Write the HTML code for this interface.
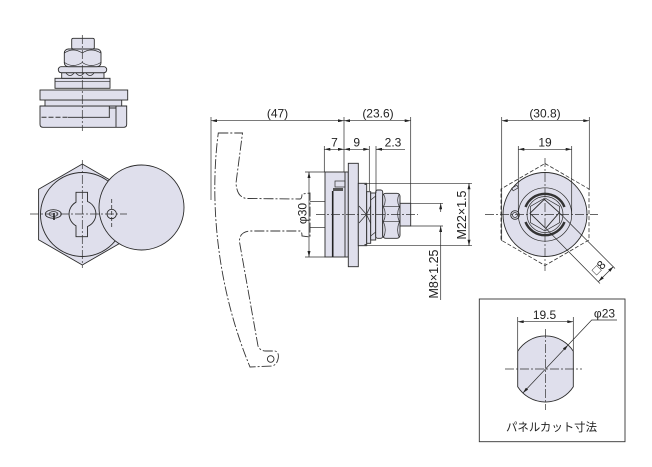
<!DOCTYPE html>
<html><head><meta charset="utf-8">
<style>
html,body{margin:0;padding:0;background:#fff;}
svg{display:block;}
text{font-family:"Liberation Sans","Noto Sans CJK JP",sans-serif;fill:#222;}
.l{stroke:#2b2b2b;stroke-width:0.9;fill:none;}
.t{stroke:#2b2b2b;stroke-width:0.7;fill:none;}
.f{fill:#dfdfec;stroke:#2b2b2b;stroke-width:0.9;}
.c{stroke:#333;stroke-width:0.7;fill:none;stroke-dasharray:9 2 2 2;}
.h{stroke:#333;stroke-width:0.8;fill:none;stroke-dasharray:4 2;}
.p{stroke:#333;stroke-width:0.9;fill:none;stroke-dasharray:10 2 2 2;}
.d{stroke:#2b2b2b;stroke-width:0.7;fill:none;marker-start:url(#a);marker-end:url(#a);}
.d1{stroke:#2b2b2b;stroke-width:0.7;fill:none;marker-end:url(#a);}
</style></head>
<body>
<svg width="652" height="467" viewBox="0 0 652 467" xmlns="http://www.w3.org/2000/svg">
<defs>
<marker id="a" viewBox="0 0 8 4" refX="8" refY="2" markerWidth="7" markerHeight="3" orient="auto-start-reverse" markerUnits="userSpaceOnUse"><path d="M0,0 L8,2 L0,4 z" fill="#222"/></marker>
</defs>

<!-- ============ TOP-LEFT VIEW ============ -->
<path class="f" d="M40,106 H126.7 V124.3 Q126.7,127.3 123.7,127.3 H43 Q40,127.3 40,124.3 Z"/>
<rect class="f" x="45" y="100" width="76.7" height="6"/>
<rect class="f" x="40" y="90" width="87.7" height="10"/>
<rect class="f" x="55" y="78.3" width="55" height="10"/>
<line class="t" x1="55" y1="81.7" x2="110" y2="81.7"/>
<rect class="f" x="61.7" y="72.7" width="42.3" height="5.6"/>
<path class="t" d="M66,73 Q70,78 74,73 M76,73 Q80,78 84,73 M86,73 Q90,78 94,73"/>
<rect class="f" x="58.3" y="66.7" width="48.4" height="6" rx="2.8"/>
<rect class="f" x="64.3" y="49" width="36.7" height="17.7" rx="4"/>
<path class="t" d="M64.5,53 Q73,47 82.3,53 Q91,47 100.8,53 M64.5,62.5 Q73,68.5 82.3,62.5 Q91,68.5 100.8,62.5"/>
<rect class="f" x="71.7" y="38.3" width="22.6" height="10.7" rx="1.5"/>
<line x1="41.5" y1="117.3" x2="68" y2="117.3" stroke="#333" stroke-width="1" stroke-dasharray="5 2"/>
<line class="l" x1="68" y1="117.3" x2="110" y2="117.3"/>
<path class="l" d="M109.3,106.5 V117.3 M116,106.5 V127 M109.3,108 H116"/>
<line class="c" x1="82.3" y1="35" x2="82.3" y2="131"/>

<!-- ============ FRONT VIEW ============ -->
<polygon class="f" points="82.3,164 126,189.25 126,239.75 82.3,265 38.6,239.75 38.6,189.25"/>
<circle class="l" cx="82.5" cy="214.5" r="42"/>
<path class="l" d="M76,192.3 H87.5 V201.5 A13.5,13.5 0 0 1 87.5,226.5 V236.7 H76 V225.8 A13.5,13.5 0 0 1 76,202.2 Z"/>
<ellipse class="l" cx="53.3" cy="214" rx="8" ry="4.3"/>
<ellipse class="t" cx="53.5" cy="214" rx="4.5" ry="2.4"/>
<path d="M54,213 v7" stroke="#222" stroke-width="1.6"/>
<circle class="f" cx="141.5" cy="207.5" r="42.5"/>
<circle class="l" cx="111.7" cy="214" r="4.7"/>
<line class="h" x1="111.7" y1="199" x2="111.7" y2="229"/>
<line class="c" x1="30" y1="214" x2="127" y2="214"/>
<line class="c" x1="82.3" y1="160" x2="82.3" y2="268"/>

<!-- ============ SIDE VIEW ============ -->
<!-- handle phantom outline -->
<path class="p" d="M218.3,133 L242.5,133 L236,183 Q237,198.5 248,198.5 L300,199 Q302,199 302,194 L310,193 L310,237 L302,236 Q302,231 300,231 L250,231 Q239,232 239.5,242 L258,346 Q260,351 266,351 L275,351 Q279,352 278.3,358 Q277,365 272,366 L250,367 C210,270 212,180 218.3,133 Z"/>
<circle class="l" cx="270.7" cy="359" r="3.3"/>
<line class="t" x1="310" y1="201.5" x2="325" y2="201.5"/>
<line class="t" x1="310" y1="227.5" x2="325" y2="227.5"/>

<!-- body -->
<rect class="f" x="325" y="172" width="23.3" height="85"/>
<line class="l" x1="345" y1="172" x2="345" y2="257"/>
<line x1="332.7" y1="191" x2="332.7" y2="257" stroke="#222" stroke-width="1.6"/>
<rect class="t" x="335" y="181" width="10" height="6" fill="#dfdfec"/>
<rect x="333" y="188" width="10" height="3" fill="#555"/>
<rect class="f" x="348.3" y="163.3" width="10" height="103.4"/>
<rect class="f" x="358.3" y="183.3" width="8.4" height="62.4"/>
<rect x="364.5" y="183" width="2.5" height="2" fill="#444"/>
<rect x="364.5" y="244" width="2.5" height="2" fill="#444"/>
<rect class="f" x="366.7" y="191.7" width="4" height="51.6"/>
<path class="t" d="M359,206 L366.5,214.5 L359,223 M366.5,214.5 L371,205 M366.5,214.5 L371,224"/>
<rect class="f" x="370.7" y="193" width="5" height="47"/>
<path class="t" d="M370.7,200 L375.7,196 M370.7,236 L375.7,232"/>
<rect class="f" x="375.7" y="190" width="7" height="48.3" rx="2"/>
<rect class="f" x="382.7" y="193.3" width="17.3" height="45" rx="3"/>
<path class="t" d="M382.7,206.7 H400 M382.7,221.7 H400 M383.5,194 Q387,200 383.5,206.7 M399.3,194 Q396,200 399.3,206.7 M383.5,207 Q387,214 383.5,221.5 M399.3,207 Q396,214 399.3,221.5 M383.5,222 Q387,230 383.5,237.5 M399.3,222 Q396,230 399.3,237.5"/>
<rect class="f" x="400" y="203.3" width="10.7" height="22.7"/>
<line class="c" x1="316" y1="214.5" x2="418" y2="214.5"/>

<!-- side view dimensions -->
<line class="t" x1="211" y1="117" x2="211" y2="200"/>
<line class="t" x1="344" y1="117" x2="344" y2="172"/>
<line class="t" x1="410.7" y1="117" x2="410.7" y2="203"/>
<line class="d" x1="211" y1="120.7" x2="344" y2="120.7"/>
<line class="d" x1="344" y1="120.7" x2="410.7" y2="120.7"/>
<text x="277.5" y="117.5" font-size="12" text-anchor="middle">(47)</text>
<text x="378" y="117.5" font-size="12" text-anchor="middle">(23.6)</text>

<line class="t" x1="324.3" y1="146" x2="324.3" y2="172"/>
<line class="t" x1="369.3" y1="146" x2="369.3" y2="191"/>
<line class="t" x1="376" y1="146" x2="376" y2="193"/>
<line class="d" x1="324.3" y1="149.3" x2="344" y2="149.3"/>
<line class="d" x1="344" y1="149.3" x2="369.3" y2="149.3"/>
<line class="t" x1="376" y1="149.3" x2="405" y2="149.3"/>
<line class="d1" x1="384" y1="149.3" x2="376" y2="149.3"/>
<text x="334.5" y="146.5" font-size="12" text-anchor="middle">7</text>
<text x="356.7" y="146.5" font-size="12" text-anchor="middle">9</text>
<text x="393" y="146.5" font-size="12" text-anchor="middle">2.3</text>

<line class="t" x1="305" y1="172" x2="325" y2="172"/>
<line class="t" x1="305" y1="257" x2="325" y2="257"/>
<line class="d" x1="309" y1="172" x2="309" y2="257"/>
<text transform="translate(306.5,213.5) rotate(-90)" font-size="12" text-anchor="middle">φ30</text>

<line class="t" x1="367" y1="183.3" x2="472" y2="183.3"/>
<line class="t" x1="367" y1="245.7" x2="472" y2="245.7"/>
<line class="d" x1="469" y1="183.3" x2="469" y2="245.7"/>
<text transform="translate(466,215) rotate(-90)" font-size="12.5" text-anchor="middle">M22×1.5</text>

<line class="t" x1="410.7" y1="203.3" x2="443" y2="203.3"/>
<line class="t" x1="410.7" y1="226" x2="443" y2="226"/>
<line class="d1" x1="440.7" y1="212" x2="440.7" y2="203.3"/>
<line class="d1" x1="440.7" y1="300" x2="440.7" y2="226"/>
<text transform="translate(438,274) rotate(-90)" font-size="12.5" text-anchor="middle">M8×1.25</text>

<!-- ============ RIGHT VIEW ============ -->
<circle class="f" cx="545" cy="214.5" r="42"/>
<polygon class="h" points="545,163.5 589,189 589,240 545,265.5 501,240 501,189"/>
<circle class="t" cx="545" cy="214.5" r="26.7"/>
<path d="M525.5,207 A21,21 0 0 1 564.5,207" stroke="#333" stroke-width="2.4" fill="none"/>
<path d="M564.5,222 A21,21 0 0 1 525.5,222" stroke="#333" stroke-width="2.4" fill="none"/>
<circle class="t" cx="545" cy="214.5" r="18"/>
<polygon class="t" points="545,198 559.5,206.3 559.5,222.7 545,231 530.5,222.7 530.5,206.3"/>
<polygon class="f" points="544.3,199.3 559.3,212.7 545.7,228.3 530,213.3"/>
<circle class="l" cx="515" cy="215" r="4.3"/>
<circle class="t" cx="515" cy="215" r="2.5"/>
<rect class="t" x="512" y="186.5" width="6" height="3" transform="rotate(-30 515 188)"/>
<line class="c" x1="485" y1="214.5" x2="598" y2="214.5"/>
<line class="c" x1="545" y1="158" x2="545" y2="271"/>

<line class="t" x1="501.7" y1="117" x2="501.7" y2="241"/>
<line class="t" x1="589.3" y1="117" x2="589.3" y2="190"/>
<line class="d" x1="501.7" y1="120.7" x2="589.3" y2="120.7"/>
<text x="545" y="117.5" font-size="12" text-anchor="middle">(30.8)</text>
<line class="t" x1="518.3" y1="146" x2="518.3" y2="214"/>
<line class="t" x1="571.7" y1="146" x2="571.7" y2="214"/>
<line class="d" x1="518.3" y1="149.3" x2="571.7" y2="149.3"/>
<text x="545" y="146.5" font-size="12" text-anchor="middle">19</text>

<line class="t" x1="545.7" y1="228.3" x2="600" y2="283.5"/>
<line class="t" x1="559.3" y1="212.7" x2="615" y2="268.5"/>
<line class="d" x1="598.5" y1="281.5" x2="613.5" y2="266.5"/>
<text transform="translate(601.5,270.5) rotate(-45)" font-size="12" text-anchor="middle">□8</text>

<!-- ============ PANEL CUT BOX ============ -->
<rect x="479.3" y="299" width="145.7" height="142.7" fill="none" stroke="#333" stroke-width="0.9"/>
<path class="f" d="M517.7,351.2 A33,33 0 0 1 573.3,351.2 V386.8 A33,33 0 0 1 517.7,386.8 Z"/>
<line class="c" x1="505" y1="369" x2="582" y2="369"/>
<line class="c" x1="545.5" y1="329" x2="545.5" y2="410"/>
<line class="t" x1="517.7" y1="317" x2="517.7" y2="351"/>
<line class="t" x1="573.3" y1="317" x2="573.3" y2="351"/>
<line class="d" x1="517.7" y1="321.7" x2="573.3" y2="321.7"/>
<text x="544.5" y="319" font-size="12" text-anchor="middle">19.5</text>
<line class="d" x1="522.9" y1="393" x2="568.1" y2="345"/>
<polyline class="t" points="568.1,345 591.7,320 617,320"/>
<text x="604.5" y="317.5" font-size="12" text-anchor="middle">φ23</text>
<text x="506" y="431" font-size="11.5" textLength="91" lengthAdjust="spacingAndGlyphs">パネルカット寸法</text>
</svg>
</body></html>
